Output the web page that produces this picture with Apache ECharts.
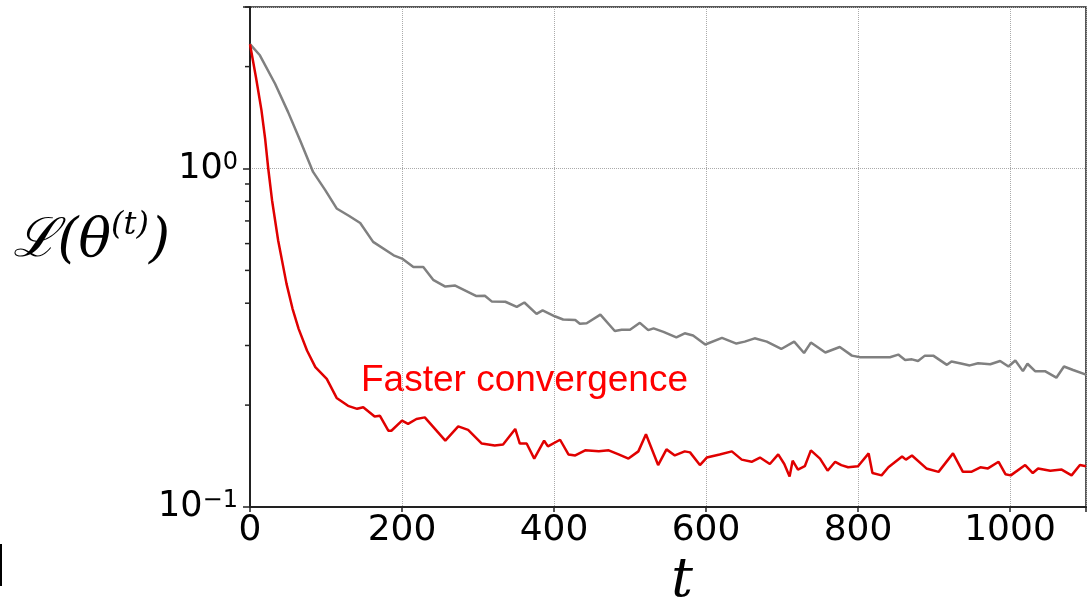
<!DOCTYPE html>
<html>
<head>
<meta charset="utf-8">
<script src="https://cdn.jsdelivr.net/npm/echarts@6/dist/echarts.min.js"></script>
<style>
  html, body { margin: 0; padding: 0; background: #fff; }
  #chart { width: 1092px; height: 599px; }
</style>
</head>
<body>
<div id="chart"></div>
<script>
  var grayT = [0, 13, 33, 50, 66, 83, 99, 114, 130, 145, 162, 189, 200, 215, 228, 241, 257, 270, 298, 309,
    318, 336, 351, 361, 377, 385, 401, 412, 428, 434, 443, 461, 480, 489, 500, 513, 524, 531, 544, 561,
    572, 583, 599, 621, 640, 651, 664, 680, 699, 716, 729, 738, 757, 776, 792, 803, 829, 842, 853, 862,
    871, 879, 888, 899, 917, 923, 937, 947, 958, 974, 987, 998, 1007, 1017, 1023, 1033, 1046, 1061, 1071, 1083, 1100];
  var grayLoss = [2.33, 2.16, 1.78, 1.47, 1.21, 0.977, 0.863, 0.762, 0.725, 0.690, 0.607, 0.554, 0.542, 0.512, 0.512, 0.469, 0.448, 0.451, 0.420, 0.421,
    0.405, 0.404, 0.390, 0.402, 0.372, 0.381, 0.366, 0.358, 0.357, 0.348, 0.349, 0.370, 0.331, 0.334, 0.334, 0.350, 0.333, 0.337, 0.329, 0.317,
    0.326, 0.321, 0.302, 0.316, 0.304, 0.308, 0.315, 0.308, 0.293, 0.308, 0.285, 0.306, 0.286, 0.297, 0.280, 0.277, 0.277, 0.277, 0.282, 0.272,
    0.273, 0.270, 0.280, 0.280, 0.263, 0.269, 0.265, 0.262, 0.266, 0.264, 0.270, 0.260, 0.271, 0.252, 0.265, 0.252, 0.252, 0.241, 0.260, 0.254, 0.246];

  var redT = [0, 8, 15, 20, 24, 29, 37, 48, 56, 64, 75, 86, 101, 114, 129, 141, 149, 164, 171, 182, 186, 200, 208,
    219, 230, 257, 274, 287, 305, 322, 333, 349, 355, 364, 374, 387, 392, 408, 419, 428, 441, 459, 472,
    485, 498, 511, 521, 537, 548, 559, 572, 579, 592, 601, 618, 634, 647, 660, 671, 684, 695, 703, 710,
    714, 721, 730, 738, 750, 760, 770, 778, 787, 800, 814, 819, 831, 840, 858, 863, 871, 890, 906, 925,
    938, 949, 961, 971, 985, 994, 1001, 1020, 1030, 1037, 1053, 1068, 1081, 1092, 1100];
  var redLoss = [2.33, 1.85, 1.49, 1.22, 1.0, 0.806, 0.614, 0.457, 0.385, 0.336, 0.290, 0.259, 0.239, 0.210, 0.199, 0.195, 0.197, 0.185, 0.186, 0.168, 0.168, 0.180, 0.176,
    0.182, 0.184, 0.157, 0.173, 0.169, 0.154, 0.152, 0.153, 0.170, 0.154, 0.154, 0.139, 0.157, 0.151, 0.158, 0.143, 0.142, 0.147, 0.146, 0.147,
    0.143, 0.139, 0.146, 0.164, 0.133, 0.148, 0.142, 0.146, 0.145, 0.133, 0.140, 0.143, 0.146, 0.138, 0.136, 0.140, 0.134, 0.143, 0.134, 0.123,
    0.137, 0.129, 0.132, 0.147, 0.139, 0.128, 0.136, 0.133, 0.131, 0.132, 0.144, 0.126, 0.124, 0.131, 0.141, 0.138, 0.142, 0.130, 0.127, 0.144,
    0.127, 0.127, 0.131, 0.130, 0.136, 0.125, 0.124, 0.133, 0.126, 0.130, 0.128, 0.129, 0.124, 0.133, 0.132];

  var xTicks = [0, 200, 400, 600, 800, 1000];
  var yMinorTicks = [0.2, 0.3, 0.4, 0.5, 0.6, 0.7, 0.8, 0.9, 2, 3];

  function pairs(ts, vs) {
    return ts.map(function (t, i) { return [t, vs[i]]; });
  }

  var chart = echarts.init(document.getElementById('chart'));

  var option = {
    animation: false,
    backgroundColor: '#fff',
    grid: {
      left: 250, right: 6, top: 7, bottom: 92,
      outerBoundsMode: 'none',
      containLabel: false,
      show: true,
      borderColor: '#222',
      borderWidth: 1.5
    },
    xAxis: {
      type: 'value',
      min: 0,
      max: 1100,
      interval: 200,
      name: 't',
      nameLocation: 'middle',
      nameGap: 48,
      nameMoveOverlap: false,
      nameTextStyle: {
        fontFamily: 'DejaVu Serif',
        fontStyle: 'italic',
        fontSize: 54,
        color: '#000',
        padding: [0, 0, 0, 28]
      },
      axisLine: { show: true, onZero: false, lineStyle: { color: '#222', width: 2 } },
      axisTick: { show: true, inside: false, length: 5, lineStyle: { color: '#222', width: 1.5 } },
      axisLabel: {
        margin: 6,
        fontFamily: 'DejaVu Sans',
        fontSize: 36,
        color: '#000',
        formatter: function (v) { return xTicks.indexOf(v) >= 0 ? String(v) : ''; }
      },
      splitLine: { show: true, lineStyle: { color: '#aaa', type: 'dotted', width: 1 } }
    },
    yAxis: {
      type: 'log',
      logBase: 10,
      min: 0.1,
      max: 3.0,
      name: '{a|ℒ(θ}{s|(t)}{a|)}',
      nameLocation: 'middle',
      nameRotate: 0,
      nameGap: 80,
      nameMoveOverlap: false,
      nameTextStyle: {
        padding: [0, 0, 30, 0],
        rich: {
          a: { fontFamily: 'DejaVu Serif', fontStyle: 'italic', fontSize: 54, color: '#000', lineHeight: 64 },
          s: { fontFamily: 'DejaVu Serif', fontStyle: 'italic', fontSize: 32, color: '#000', verticalAlign: 'top', lineHeight: 64, padding: [0, 0, 24, 0] }
        }
      },
      axisLine: { show: true, lineStyle: { color: '#222', width: 2 } },
      axisTick: { show: true, inside: false, length: 7, lineStyle: { color: '#222', width: 1.5 } },
      axisLabel: {
        margin: 12,
        formatter: function (v) {
          var e = Math.round(Math.log10(v));
          if (Math.abs(Math.log10(v) - e) > 1e-6) return '';
          return '{b|10}{s|' + (e < 0 ? '\u2212' + (-e) : e) + '}';
        },
        rich: {
          b: { fontFamily: 'DejaVu Sans', fontSize: 35, color: '#000', lineHeight: 36 },
          s: { fontFamily: 'DejaVu Sans', fontSize: 24, color: '#000', verticalAlign: 'top', lineHeight: 36, padding: [0, 0, 16, 0] }
        }
      },
      splitLine: { show: true, lineStyle: { color: '#aaa', type: 'dotted', width: 1 } }
    },
    series: [
      {
        name: 'baseline',
        type: 'line',
        showSymbol: false,
        lineStyle: { color: '#808080', width: 2.5 },
        data: pairs(grayT, grayLoss),
        z: 3
      },
      {
        name: 'ours',
        type: 'line',
        showSymbol: false,
        lineStyle: { color: '#e00000', width: 2.5 },
        data: pairs(redT, redLoss),
        z: 4
      },
      {
        // matplotlib-style log minor ticks on the y axis
        type: 'custom',
        coordinateSystem: 'cartesian2d',
        clip: false,
        silent: true,
        encode: { x: 0, y: 1 },
        data: yMinorTicks.map(function (v) { return [0, v]; }),
        renderItem: function (params, api) {
          var p = api.coord([0, api.value(1)]);
          return {
            type: 'line',
            shape: { x1: p[0] - 5, y1: p[1], x2: p[0] - 1, y2: p[1] },
            style: { stroke: '#222', lineWidth: 1.5 }
          };
        },
        z: 10
      }
    ],
    graphic: [
      {
        type: 'text',
        left: 361,
        top: 362,
        style: {
          text: 'Faster convergence',
          fontFamily: 'Liberation Sans',
          fontSize: 37,
          fill: '#ff0000'
        }
      },
      {
        type: 'rect',
        left: 0,
        top: 544,
        shape: { width: 2, height: 42 },
        style: { fill: '#000' }
      }
    ]
  };

  chart.setOption(option);
</script>
</body>
</html>
